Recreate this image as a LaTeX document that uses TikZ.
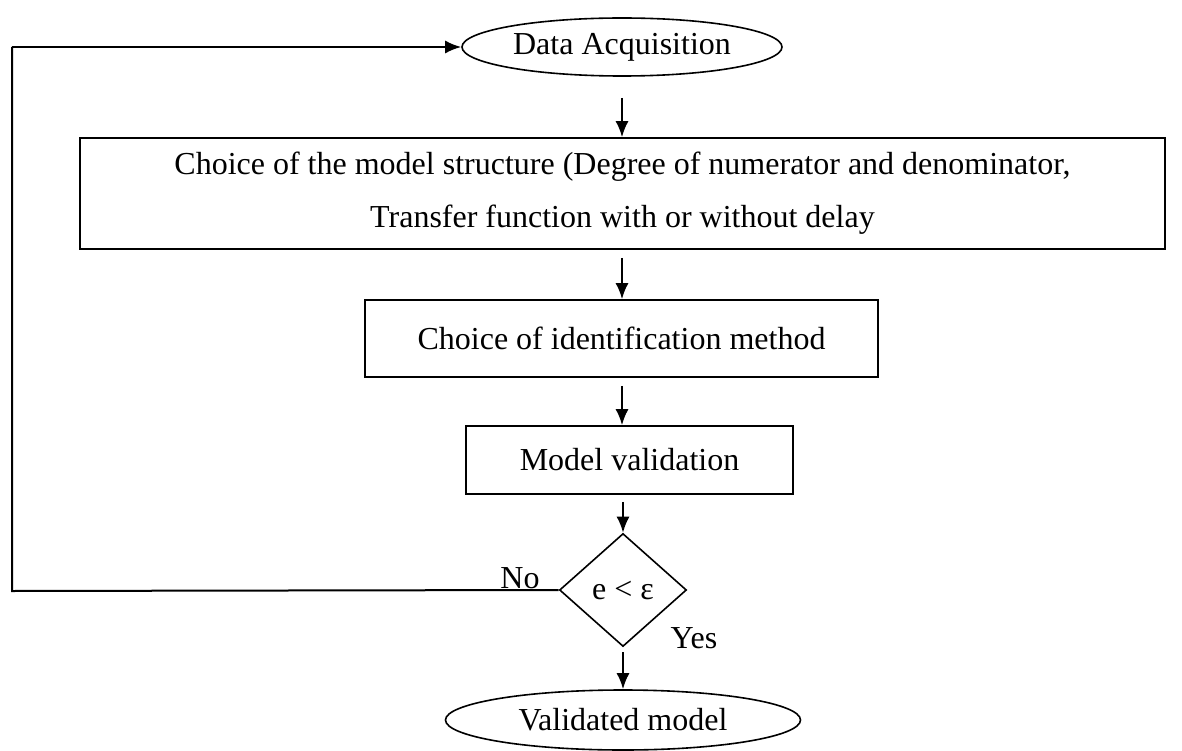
\documentclass[tikz,border=0pt]{standalone}
\usepackage{fontspec}
\setmainfont{Liberation Serif}
\usetikzlibrary{shapes.geometric,arrows.meta}
\begin{document}
\begin{tikzpicture}[x=1pt,y=-1pt,
  every node/.style={font=\fontsize{32}{38}\selectfont},
  shapeline/.style={draw,line width=1.6pt,inner sep=0pt},
  term/.style={shapeline,ellipse},
  proc/.style={shapeline,rectangle},
  dec/.style={shapeline,diamond,aspect=1.12},
  conn/.style={line width=2pt},
  arr/.style={conn,-{Latex[length=16pt,width=13pt]}},
  lbl/.style={inner sep=0pt}]
\useasboundingbox (0,0) rectangle (1182,751);

% process chain
\node[term,minimum width=320pt,minimum height=58pt] (acq) at (622,47) {Data Acquisition};
\node[proc,minimum width=1085pt,minimum height=111pt,align=center,
      font=\fontsize{32}{53}\selectfont] (struct) at (622.5,193.5)
  {Choice of the model structure (Degree of numerator and denominator,\\
   Transfer function with or without delay};
\node[proc,minimum width=513pt,minimum height=77pt] (method) at (621.5,338.5) {Choice of identification method};
\node[proc,minimum width=327pt,minimum height=68pt] (valid) at (629.5,460) {Model validation};
\node[dec,minimum width=127pt,minimum height=113pt] (test) at (623,590) {e < ε};
\node[term,minimum width=355pt,minimum height=60pt] (done) at (623,720) {Validated model};

% branch labels
\node[lbl] (no) at (520,578) {No};
\node[lbl] (yes) at (694,638) {Yes};

% forward arrows
\draw[arr,shorten <=21pt] (acq.south) -- (acq.south |- struct.north);
\draw[arr,shorten <=8pt] (struct.south -| acq.south) -- (acq.south |- method.north);
\draw[arr,shorten <=8pt] (method.south -| acq.south) -- (acq.south |- valid.north);
\draw[arr,shorten <=7pt] (valid.south -| test.north) -- (test.north);
\draw[arr,shorten <=5pt] (test.south) -- (done.north);

% feedback loop
\coordinate (lb) at (12,591);
\coordinate (lt) at (12,47);
\draw[conn] (test.west) -- (lb) -- (lt);
\draw[arr] (lt) -- (acq.west);
\end{tikzpicture}
\end{document}
